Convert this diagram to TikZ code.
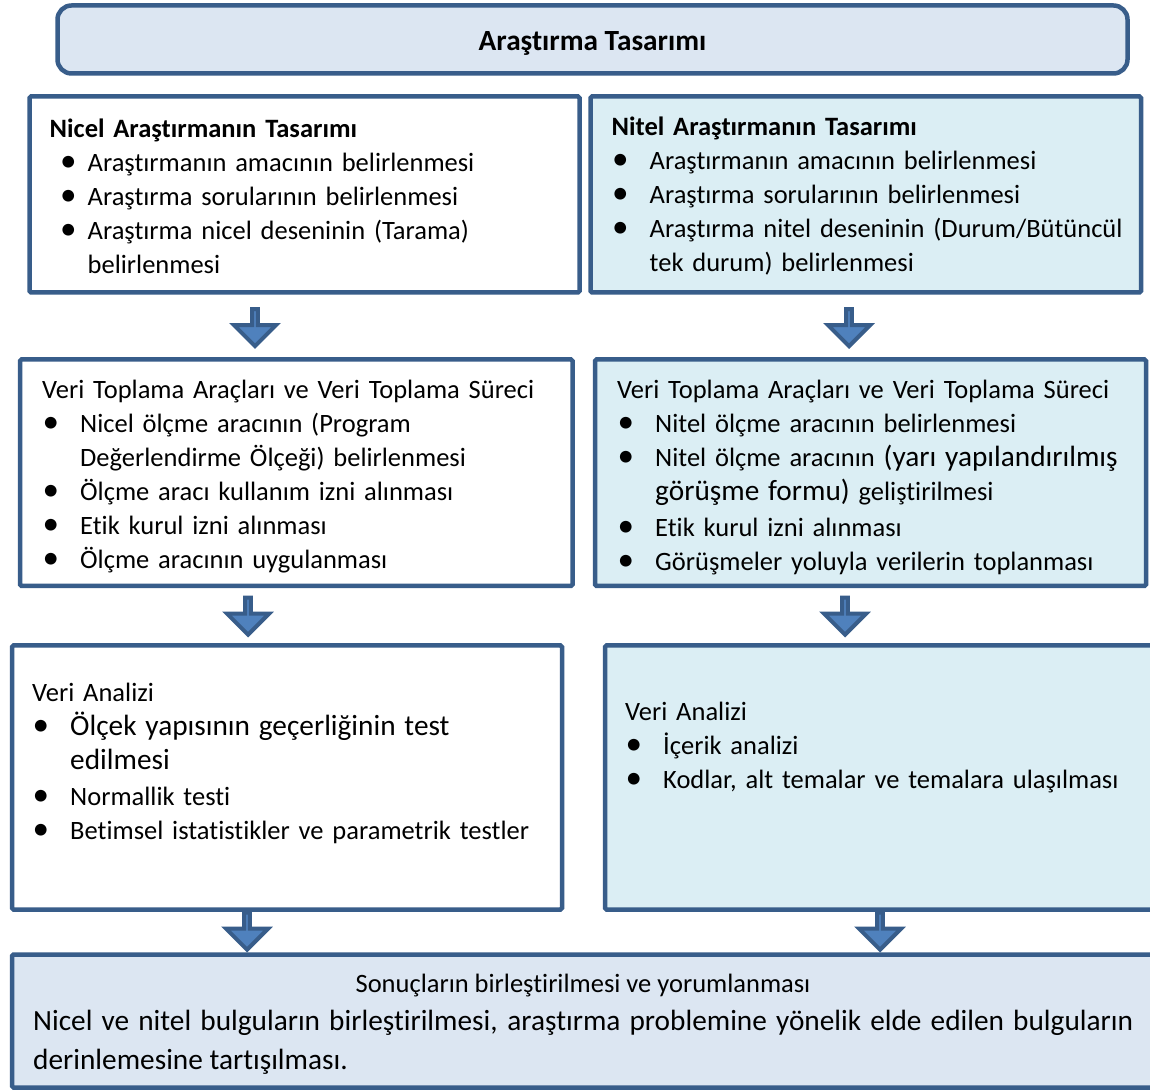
\documentclass[tikz,border=0pt]{standalone}
\usepackage{fontspec}
\setmainfont{Carlito}[Ligatures=NoCommon]
\usepackage{tikz}
\usetikzlibrary{shapes,positioning,calc}
\definecolor{dfborder}{RGB}{56,93,138}
\definecolor{dfpaleblue}{RGB}{220,230,242}
\definecolor{dfpaleaqua}{RGB}{219,238,244}
\definecolor{dfarrow}{RGB}{79,129,189}
\newcommand{\bodyfont}{\fontsize{26.5}{34}\selectfont}
\newcommand{\upsize}{\fontsize{29.3}{34}\selectfont}
\newcommand{\bulitem}[2][0.5pt]{\par\noindent\hangindent=38pt\hangafter=1\makebox[38pt][l]{\hspace{#1}\scalebox{1.25}{\textbullet}}#2\par}
\tikzstyle{headbox} = [rectangle, rounded corners=14pt, draw=dfborder, fill=dfpaleblue, line width=4.5pt, outer sep=0pt, anchor=north west, font=\upsize\bfseries, text height=22pt, text depth=0pt]
\tikzstyle{nicelbox} = [rectangle, rounded corners=1.5pt, draw=dfborder, fill=white, line width=4.5pt, outer sep=0pt, anchor=north west]
\tikzstyle{nitelbox} = [nicelbox, fill=dfpaleaqua]
\tikzstyle{sonucbox} = [nicelbox, fill=dfpaleblue]
\tikzstyle{listtext} = [anchor=north west, inner sep=0pt, text width=520pt, align=left, font=\bodyfont]
\tikzstyle{sonucline} = [anchor=base west, inner sep=0pt, font=\upsize]
\tikzstyle{downarrow} = [single arrow, rotate=-90, draw=dfborder, fill=dfarrow, line width=4pt, minimum height=37pt, minimum width=42pt, single arrow head extend=13pt, inner sep=0pt, anchor=tip]

\begin{document}
\begin{tikzpicture}[x=1pt,y=1pt]
\useasboundingbox[fill=white] (0,0) rectangle (1150,1090);

% Title
\node[headbox, minimum width=1070pt, minimum height=68pt] (head) at (57.5,1084.5) {Araştırma Tasarımı};

% Frames
\node[nicelbox, minimum width=550pt, minimum height=196pt] (nicel1) at (29.5,993.5) {};
\node[nitelbox, minimum width=550.5pt, minimum height=196pt] (nitel1) at (590.5,993.5) {};
\node[nicelbox, minimum width=552.5pt, minimum height=226.5pt] (nicel2) at (20,730.5) {};
\node[nitelbox, minimum width=551pt, minimum height=226.5pt] (nitel2) at (595,730.5) {};
\node[nicelbox, minimum width=550pt, minimum height=264pt] (nicel3) at (12,444.5) {};
\node[nitelbox, minimum width=560pt, minimum height=264pt] (nitel3) at (605,444.5) {};
\node[sonucbox, minimum width=1153pt, minimum height=133pt] (sonuc) at (12,135.5) {};

% Texts
\node[listtext, below right=22pt and 20pt of nicel1.north west] (nicel1txt) {
\textbf{Nicel Araştırmanın Tasarımı}
\bulitem[10.5pt]{Araştırmanın amacının belirlenmesi}
\bulitem[10.5pt]{Araştırma sorularının belirlenmesi}
\bulitem[10.5pt]{Araştırma nicel deseninin (Tarama)\newline belirlenmesi}
};
\node[listtext, below right=20pt and 21pt of nitel1.north west] (nitel1txt) {
\textbf{Nitel Araştırmanın Tasarımı}
\bulitem{Araştırmanın amacının belirlenmesi}
\bulitem{Araştırma sorularının belirlenmesi}
\bulitem{Araştırma nitel deseninin (Durum/Bütüncül\newline tek durum) belirlenmesi}
};
\node[listtext, below right=20pt and 22pt of nicel2.north west] (nicel2txt) {
Veri Toplama Araçları ve Veri Toplama Süreci
\bulitem{Nicel ölçme aracının (Program\newline Değerlendirme Ölçeği) belirlenmesi}
\bulitem{Ölçme aracı kullanım izni alınması}
\bulitem{Etik kurul izni alınması}
\bulitem{Ölçme aracının uygulanması}
};
\node[listtext, below right=20pt and 22pt of nitel2.north west] (nitel2txt) {
Veri Toplama Araçları ve Veri Toplama Süreci
\bulitem{Nitel ölçme aracının belirlenmesi}
\bulitem{Nitel ölçme aracının {\upsize(yarı yapılandırılmış\newline görüşme formu)} geliştirilmesi}
\vspace{2pt}
\bulitem{Etik kurul izni alınması}
\bulitem{Görüşmeler yoluyla verilerin toplanması}
};
\node[listtext, below right=37pt and 20pt of nicel3.north west] (nicel3txt) {
Veri Analizi
\bulitem{{\upsize Ölçek yapısının geçerliğinin test\newline edilmesi}}
\vspace{2pt}
\bulitem{Normallik testi}
\bulitem{Betimsel istatistikler ve parametrik testler}
};
\node[listtext, below right=56pt and 20pt of nitel3.north west] (nitel3txt) {
Veri Analizi
\bulitem{İçerik analizi}
\bulitem{Kodlar, alt temalar ve temalara ulaşılması}
};

% Conclusion lines
\node[anchor=base, inner sep=0pt, font=\bodyfont] (sonuchead) at ($(sonuc.north west)+(571,-38)$) {Sonuçların birleştirilmesi ve yorumlanması};
\node[sonucline] (sonucline1) at ($(sonuc.north west)+(21,-76)$) {\hbox to 1100pt{Nicel ve nitel bulguların birleştirilmesi, araştırma problemine yönelik elde edilen bulguların}};
\node[sonucline] (sonucline2) at ($(sonuc.north west)+(21,-115)$) {derinlemesine tartışılması.};

% Arrows
\node[downarrow] (arrA1) at ($(nicel2.north)+(-41.25,10.5)$) {};
\node[downarrow] (arrB1) at ($(nitel2.north)+(-21.5,10.5)$) {};
\node[downarrow] (arrA2) at ($(nicel3.north)+(-39,8)$) {};
\node[downarrow] (arrB2) at ($(nitel3.north)+(-40,8)$) {};
\node[downarrow] (arrA3) at ($(nicel3.south |- sonuc.north)+(-40,2)$) {};
\node[downarrow] (arrB3) at ($(nitel3.south |- sonuc.north)+(-5,2)$) {};
\end{tikzpicture}
\end{document}
